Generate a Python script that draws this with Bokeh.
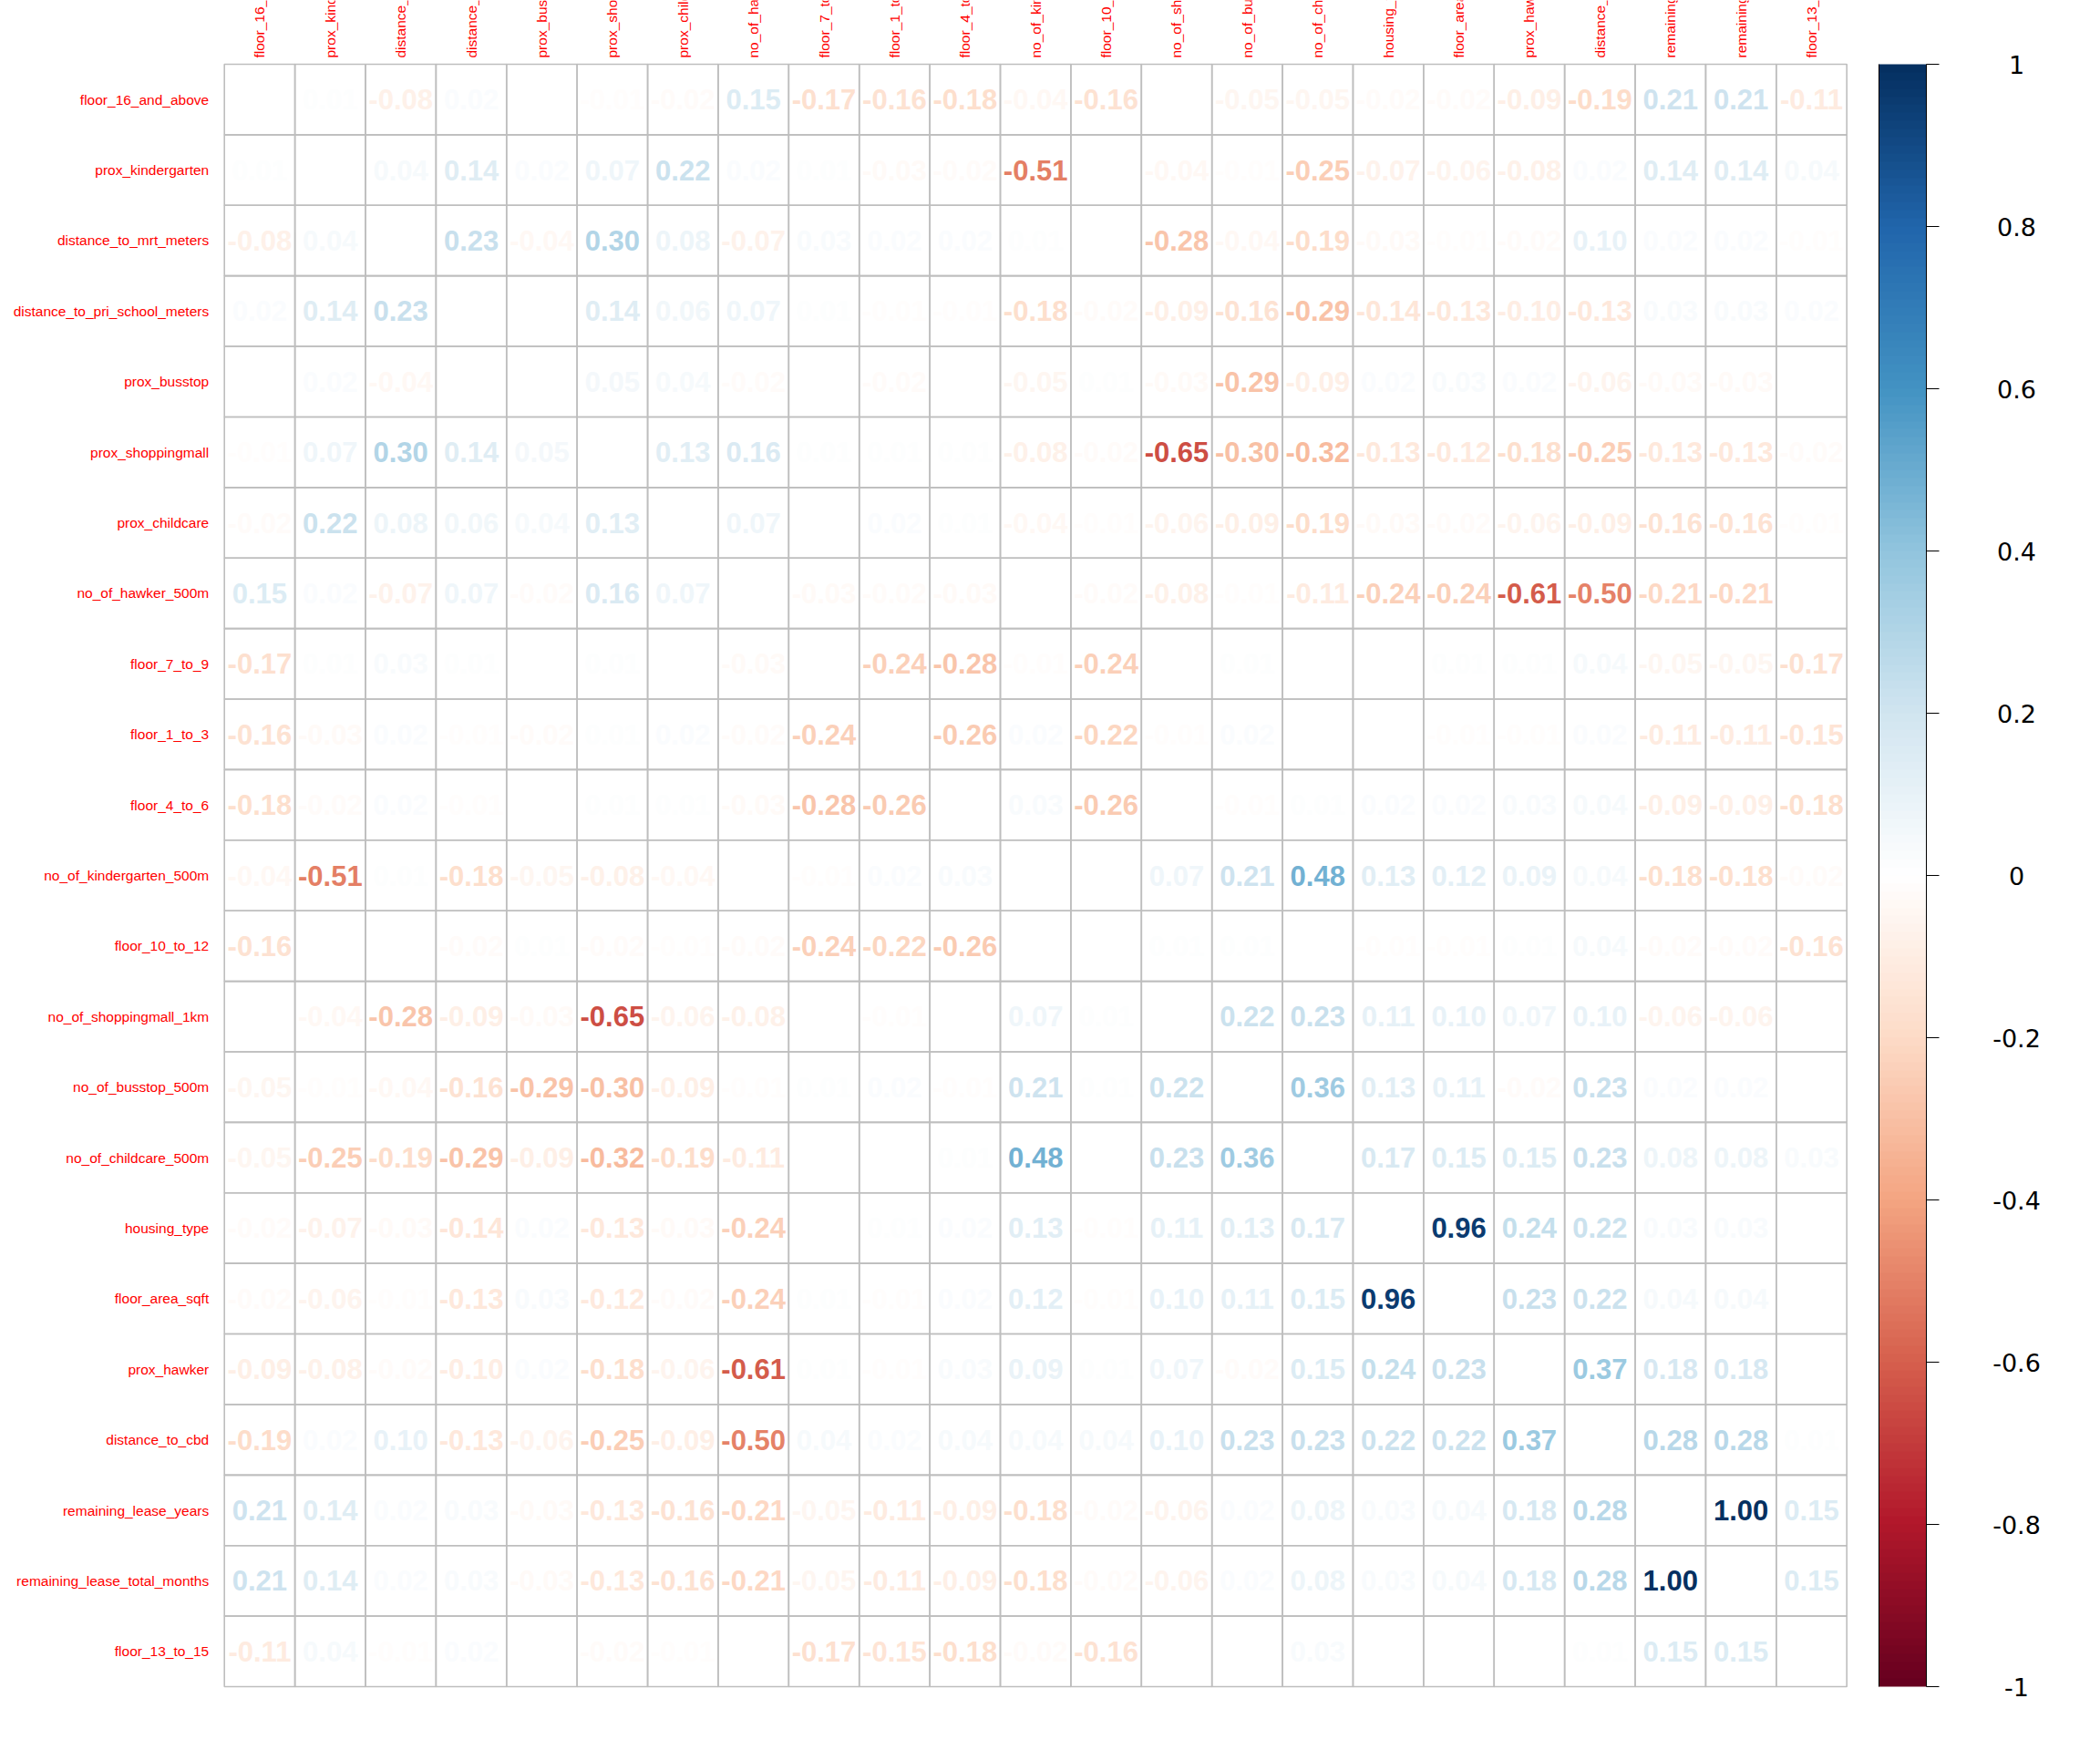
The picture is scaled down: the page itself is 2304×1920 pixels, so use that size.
import math
import numpy as np
from bokeh.plotting import figure
from bokeh.models import ColumnDataSource, Range1d, LinearColorMapper
from bokeh.core.properties import value
from bokeh.embed import file_html
from bokeh.resources import INLINE

variables = [
    "floor_16_and_above", "prox_kindergarten", "distance_to_mrt_meters",
    "distance_to_pri_school_meters", "prox_busstop", "prox_shoppingmall",
    "prox_childcare", "no_of_hawker_500m", "floor_7_to_9", "floor_1_to_3",
    "floor_4_to_6", "no_of_kindergarten_500m", "floor_10_to_12",
    "no_of_shoppingmall_1km", "no_of_busstop_500m", "no_of_childcare_500m",
    "housing_type", "floor_area_sqft", "prox_hawker", "distance_to_cbd",
    "remaining_lease_years", "remaining_lease_total_months", "floor_13_to_15",
]

row_floor_16_and_above = [1, 0.01, -0.08, 0.02, 0.00, -0.01, -0.02, 0.15, -0.17, -0.16, -0.18, -0.04, -0.16, 0.00, -0.05, -0.05, -0.02, -0.02, -0.09, -0.19, 0.21, 0.21, -0.11]
row_prox_kindergarten = [0.01, 1, 0.04, 0.14, 0.02, 0.07, 0.22, 0.02, 0.01, -0.03, -0.02, -0.51, 0.00, -0.04, -0.01, -0.25, -0.07, -0.06, -0.08, 0.02, 0.14, 0.14, 0.04]
row_distance_to_mrt_meters = [-0.08, 0.04, 1, 0.23, -0.04, 0.30, 0.08, -0.07, 0.03, 0.02, 0.02, 0.01, 0.00, -0.28, -0.04, -0.19, -0.03, -0.01, -0.02, 0.10, 0.02, 0.02, -0.01]
row_distance_to_pri_school_meters = [0.02, 0.14, 0.23, 1, 0.00, 0.14, 0.06, 0.07, 0.01, -0.01, -0.01, -0.18, -0.02, -0.09, -0.16, -0.29, -0.14, -0.13, -0.10, -0.13, 0.03, 0.03, 0.02]
row_prox_busstop = [0.00, 0.02, -0.04, 0.00, 1, 0.05, 0.04, -0.02, 0.00, -0.02, 0.00, -0.05, 0.01, -0.03, -0.29, -0.09, 0.02, 0.03, 0.02, -0.06, -0.03, -0.03, 0.00]
row_prox_shoppingmall = [-0.01, 0.07, 0.30, 0.14, 0.05, 1, 0.13, 0.16, 0.01, 0.01, 0.01, -0.08, -0.02, -0.65, -0.30, -0.32, -0.13, -0.12, -0.18, -0.25, -0.13, -0.13, -0.02]
row_prox_childcare = [-0.02, 0.22, 0.08, 0.06, 0.04, 0.13, 1, 0.07, 0.00, 0.02, 0.01, -0.04, -0.01, -0.06, -0.09, -0.19, -0.03, -0.02, -0.06, -0.09, -0.16, -0.16, -0.01]
row_no_of_hawker_500m = [0.15, 0.02, -0.07, 0.07, -0.02, 0.16, 0.07, 1, -0.03, -0.02, -0.03, 0.00, -0.02, -0.08, -0.01, -0.11, -0.24, -0.24, -0.61, -0.50, -0.21, -0.21, 0.00]
row_floor_7_to_9 = [-0.17, 0.01, 0.03, 0.01, 0.00, 0.01, 0.00, -0.03, 1, -0.24, -0.28, -0.01, -0.24, 0.00, 0.01, 0.00, 0.00, 0.01, 0.01, 0.04, -0.05, -0.05, -0.17]
row_floor_1_to_3 = [-0.16, -0.03, 0.02, -0.01, -0.02, 0.01, 0.02, -0.02, -0.24, 1, -0.26, 0.02, -0.22, -0.01, 0.02, 0.00, 0.00, -0.01, -0.01, 0.02, -0.11, -0.11, -0.15]
row_floor_4_to_6 = [-0.18, -0.02, 0.02, -0.01, 0.00, 0.01, 0.01, -0.03, -0.28, -0.26, 1, 0.03, -0.26, 0.00, -0.01, 0.01, 0.02, 0.02, 0.03, 0.04, -0.09, -0.09, -0.18]
row_no_of_kindergarten_500m = [-0.04, -0.51, 0.01, -0.18, -0.05, -0.08, -0.04, 0.00, -0.01, 0.02, 0.03, 1, 0.00, 0.07, 0.21, 0.48, 0.13, 0.12, 0.09, 0.04, -0.18, -0.18, -0.02]
row_floor_10_to_12 = [-0.16, 0.00, 0.00, -0.02, 0.01, -0.02, -0.01, -0.02, -0.24, -0.22, -0.26, 0.00, 1, 0.01, 0.01, 0.00, -0.01, -0.01, 0.01, 0.04, -0.02, -0.02, -0.16]
row_no_of_shoppingmall_1km = [0.00, -0.04, -0.28, -0.09, -0.03, -0.65, -0.06, -0.08, 0.00, -0.01, 0.00, 0.07, 0.01, 1, 0.22, 0.23, 0.11, 0.10, 0.07, 0.10, -0.06, -0.06, 0.00]
row_no_of_busstop_500m = [-0.05, -0.01, -0.04, -0.16, -0.29, -0.30, -0.09, -0.01, 0.01, 0.02, -0.01, 0.21, 0.01, 0.22, 1, 0.36, 0.13, 0.11, -0.02, 0.23, 0.02, 0.02, 0.00]
row_no_of_childcare_500m = [-0.05, -0.25, -0.19, -0.29, -0.09, -0.32, -0.19, -0.11, 0.00, 0.00, 0.01, 0.48, 0.00, 0.23, 0.36, 1, 0.17, 0.15, 0.15, 0.23, 0.08, 0.08, 0.03]
row_housing_type = [-0.02, -0.07, -0.03, -0.14, 0.02, -0.13, -0.03, -0.24, 0.00, 0.01, 0.02, 0.13, -0.01, 0.11, 0.13, 0.17, 1, 0.96, 0.24, 0.22, 0.03, 0.03, 0.00]
row_floor_area_sqft = [-0.02, -0.06, -0.01, -0.13, 0.03, -0.12, -0.02, -0.24, 0.01, -0.01, 0.02, 0.12, -0.01, 0.10, 0.11, 0.15, 0.96, 1, 0.23, 0.22, 0.04, 0.04, 0.00]
row_prox_hawker = [-0.09, -0.08, -0.02, -0.10, 0.02, -0.18, -0.06, -0.61, 0.01, -0.01, 0.03, 0.09, 0.01, 0.07, -0.02, 0.15, 0.24, 0.23, 1, 0.37, 0.18, 0.18, 0.00]
row_distance_to_cbd = [-0.19, 0.02, 0.10, -0.13, -0.06, -0.25, -0.09, -0.50, 0.04, 0.02, 0.04, 0.04, 0.04, 0.10, 0.23, 0.23, 0.22, 0.22, 0.37, 1, 0.28, 0.28, 0.01]
row_remaining_lease_years = [0.21, 0.14, 0.02, 0.03, -0.03, -0.13, -0.16, -0.21, -0.05, -0.11, -0.09, -0.18, -0.02, -0.06, 0.02, 0.08, 0.03, 0.04, 0.18, 0.28, 1, 1.00, 0.15]
row_remaining_lease_total_months = [0.21, 0.14, 0.02, 0.03, -0.03, -0.13, -0.16, -0.21, -0.05, -0.11, -0.09, -0.18, -0.02, -0.06, 0.02, 0.08, 0.03, 0.04, 0.18, 0.28, 1.00, 1, 0.15]
row_floor_13_to_15 = [-0.11, 0.04, -0.01, 0.02, 0.00, -0.02, -0.01, 0.00, -0.17, -0.15, -0.18, -0.02, -0.16, 0.00, 0.00, 0.03, 0.00, 0.00, 0.00, 0.01, 0.15, 0.15, 1]

corr_rows = [
    row_floor_16_and_above, row_prox_kindergarten, row_distance_to_mrt_meters,
    row_distance_to_pri_school_meters, row_prox_busstop, row_prox_shoppingmall,
    row_prox_childcare, row_no_of_hawker_500m, row_floor_7_to_9, row_floor_1_to_3,
    row_floor_4_to_6, row_no_of_kindergarten_500m, row_floor_10_to_12,
    row_no_of_shoppingmall_1km, row_no_of_busstop_500m, row_no_of_childcare_500m,
    row_housing_type, row_floor_area_sqft, row_prox_hawker, row_distance_to_cbd,
    row_remaining_lease_years, row_remaining_lease_total_months, row_floor_13_to_15,
]

colorbar_ticks = [-1, -0.8, -0.6, -0.4, -0.2, 0, 0.2, 0.4, 0.6, 0.8, 1]
colorbar_tick_labels = ["-1", "-0.8", "-0.6", "-0.4", "-0.2", "0", "0.2", "0.4", "0.6", "0.8", "1"]

RDBU = ["#67001F", "#B2182B", "#D6604D", "#F4A582", "#FDDBC7", "#FFFFFF",
        "#D1E5F0", "#92C5DE", "#4393C3", "#2166AC", "#053061"]


def hex2rgb(h):
    return tuple(int(h[i:i + 2], 16) for i in (1, 3, 5))


STOPS = [hex2rgb(c) for c in RDBU]


def corr_color(v):
    t = (max(-1.0, min(1.0, v)) + 1.0) / 2.0 * 10.0
    i = min(int(math.floor(t)), 9)
    f = t - i
    a, b = STOPS[i], STOPS[i + 1]
    rgb = [round(a[k] + (b[k] - a[k]) * f) for k in range(3)]
    return "#%02x%02x%02x" % tuple(rgb)


FONT = "Liberation Sans"
N = len(variables)

# page layout (pixels)
W, H = 2304, 1920
LEFT, TOP, BOTTOM = 245.7, 70.0, 70.0
CELL = (H - TOP - BOTTOM) / N
LABEL_GAP_X = 17.0
LABEL_GAP_Y = 7.0
BAR_LEFT, BAR_W = 2061.0, 52.0
TICK_LEN = 14.0
CB_LABEL_X = 2212.0

x_start = -0.5 - LEFT / CELL
y_top = -0.5 - TOP / CELL
y_bottom = (N - 0.5) + BOTTOM / CELL

p = figure(width=W, height=H,
           x_range=Range1d(x_start, x_start + W / CELL),
           y_range=Range1d(y_bottom, y_top),
           x_axis_location=None, y_axis_location=None, toolbar_location=None,
           output_backend="svg", min_border=0, min_border_left=0, min_border_right=0,
           min_border_top=0, min_border_bottom=0, title=None)
p.grid.visible = False
p.outline_line_color = None
p.background_fill_color = "white"
p.border_fill_color = "white"

# colour-bar coordinate system: bar spans x 0..1, y -1..1
cb_px_per_unit_y = (H - TOP - BOTTOM) / 2.0
p.extra_x_ranges = {"cbx": Range1d(-BAR_LEFT / BAR_W, (W - BAR_LEFT) / BAR_W)}
p.extra_y_ranges = {"cby": Range1d(-1 - BOTTOM / cb_px_per_unit_y, 1 + TOP / cb_px_per_unit_y)}

idx = list(range(N))
gx, gy = [], []
tx, ty, tt, tc = [], [], [], []
for i in idx:
    for j in idx:
        gx.append(j)
        gy.append(i)
        if i != j:
            v = corr_rows[i][j]
            tx.append(j)
            ty.append(i)
            tt.append("%.2f" % v)
            tc.append(corr_color(v))

p.rect(x=gx, y=gy, width=1, height=1, fill_color=None, line_color="#BEBEBE", line_width=1.6)

text_src = ColumnDataSource(dict(x=tx, y=ty, text=tt, color=tc))
p.text(x="x", y="y", text="text", text_color="color", source=text_src,
       text_font=value(FONT), text_font_style="bold", text_font_size="31px",
       text_align="center", text_baseline="middle")

# row labels (left)
row_lab_src = ColumnDataSource(dict(x=[-0.5 - LABEL_GAP_X / CELL] * N, y=idx, text=variables))
p.text(x="x", y="y", text="text", source=row_lab_src, text_align="right",
       text_baseline="middle", text_color="red", text_font=value(FONT),
       text_font_size="15.5px")

# column labels (top, vertical, cut by the page top)
col_lab_src = ColumnDataSource(dict(x=idx, y=[-0.5 - LABEL_GAP_Y / CELL] * N, text=variables))
p.text(x="x", y="y", text="text", source=col_lab_src, angle=math.pi / 2,
       text_align="left", text_baseline="middle", text_color="red",
       text_font=value(FONT), text_font_size="15.5px")

# ---------------- colour bar ----------------
palette = [corr_color(v) for v in np.linspace(-1, 1, 200)]
mapper = LinearColorMapper(palette=palette, low=-1, high=1)
p.image(image=[np.linspace(-1, 1, 400).reshape(400, 1)], x=0, y=-1, dw=1, dh=2,
        color_mapper=mapper, x_range_name="cbx", y_range_name="cby")
p.segment(x0=[1], y0=[-1], x1=[1], y1=[1], line_color="black", line_width=1,
          x_range_name="cbx", y_range_name="cby")
p.segment(x0=[0], y0=[-1], x1=[0], y1=[1], line_color="black", line_width=1,
          x_range_name="cbx", y_range_name="cby")
n_t = len(colorbar_ticks)
p.segment(x0=[1] * n_t, y0=colorbar_ticks, x1=[1 + TICK_LEN / BAR_W] * n_t, y1=colorbar_ticks,
          line_color="black", line_width=1, x_range_name="cbx", y_range_name="cby")
cb_lab_src = ColumnDataSource(dict(x=[(CB_LABEL_X - BAR_LEFT) / BAR_W] * n_t,
                                   y=colorbar_ticks, text=colorbar_tick_labels))
p.text(x="x", y="y", text="text", source=cb_lab_src, text_align="center",
       text_baseline="middle", text_color="black", text_font=value("DejaVu Sans"),
       text_font_size="27px", x_range_name="cbx", y_range_name="cby")

open("out.html", "w").write(file_html(p, INLINE))
